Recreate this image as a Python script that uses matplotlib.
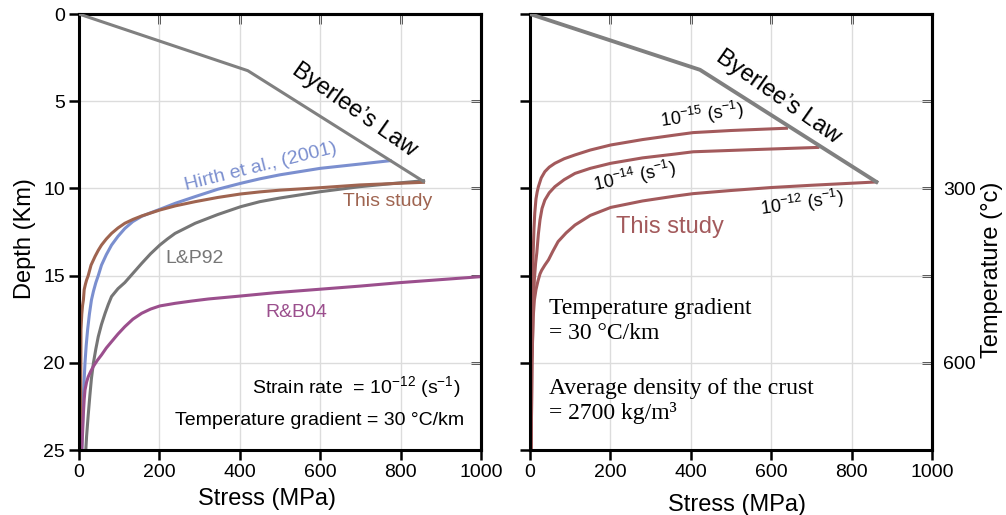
import matplotlib
matplotlib.use("Agg")
import matplotlib.pyplot as plt

plt.rcParams['font.family'] = ['Liberation Sans', 'DejaVu Sans']
plt.rcParams['mathtext.fontset'] = 'custom'
plt.rcParams['mathtext.rm'] = 'Liberation Sans'
plt.rcParams['mathtext.it'] = 'Liberation Sans:italic'

# --- data (stress MPa, depth km) ---
byerlee_stress = [0, 420, 857]
byerlee_depth = [0, 3.25, 9.6]
byerlee2_stress = [0, 423, 862]
byerlee2_depth = [0, 3.2, 9.63]

hirth_stress = [7, 9, 11, 13, 15, 18, 21.5, 26, 31, 36, 42, 48, 56, 68, 81, 97, 114, 134,
                156, 178, 201, 240, 289, 345, 402, 450, 500, 600, 700, 774]
hirth_depth = [25, 23.5, 21.9, 20.9, 20.0, 19.0, 18.1, 17.2, 16.4, 15.9, 15.4, 15.0, 14.4, 13.8,
               13.25, 12.75, 12.3, 11.9, 11.6, 11.4, 11.2, 10.85, 10.47, 10.05, 9.71, 9.45,
               9.22, 8.85, 8.6, 8.41]

study_stress = [4, 4.5, 5, 7, 9, 11, 13, 16, 19, 23, 30, 40, 48, 56, 68, 81, 97, 114, 134,
                156, 201, 240, 289, 345, 402, 450, 500, 600, 699, 857]
study_depth = [25, 21, 18.1, 17.2, 16.7, 16.4, 15.8, 15.5, 15.25, 15.0, 14.4, 13.9, 13.55,
               13.25, 12.9, 12.58, 12.27, 12.0, 11.78, 11.58, 11.24, 11.0, 10.76, 10.52,
               10.32, 10.2, 10.1, 9.96, 9.8, 9.65]

lp92_stress = [17, 19, 23, 27, 31, 36, 42, 48, 56, 65, 73, 81, 97, 114, 135, 156, 178, 201,
               220, 239, 289, 345, 402, 450, 500, 600, 699, 780, 857]
lp92_depth = [25, 24.2, 23, 21.9, 20.9, 20.0, 19.2, 18.5, 17.8, 17.16, 16.65, 16.2, 15.75,
              15.4, 14.85, 14.3, 13.75, 13.25, 12.9, 12.58, 12.0, 11.5, 11.05, 10.76, 10.55,
              10.19, 9.9, 9.72, 9.56]

rb04_stress = [7, 9, 11, 13, 15, 19, 23, 29, 36, 46, 56, 68, 81, 97, 114, 134, 156, 178,
               201, 239, 280, 322, 402, 488, 600, 700, 800, 900, 1000]
rb04_depth = [25, 24, 22.9, 22.1, 21.56, 21.1, 20.8, 20.5, 20.2, 19.85, 19.55, 19.15, 18.79,
              18.35, 17.93, 17.5, 17.16, 16.92, 16.74, 16.59, 16.46, 16.34, 16.17, 15.98,
              15.78, 15.6, 15.4, 15.23, 15.06]

# strain rate curves (right panel)
sr15_stress = [2, 3, 5, 6.5, 8, 10, 12, 15, 18, 21, 28, 37, 48, 62, 85, 112, 150, 201, 280,
               361, 406, 500, 638]
sr15_depth = [25, 21, 18, 15.5, 13.7, 12.3, 11.4, 10.6, 10.2, 9.9, 9.4, 9.04, 8.78, 8.56,
              8.3, 8.08, 7.8, 7.51, 7.2, 6.94, 6.8, 6.68, 6.55]
sr14_stress = [3, 5, 8, 11, 14, 17, 21, 25, 30, 37, 48, 62, 85, 112, 150, 201, 280, 361,
               406, 550, 716]
sr14_depth = [25, 20, 17, 15.2, 14.3, 13.7, 12.6, 11.8, 11.15, 10.67, 10.25, 9.9, 9.5, 9.14,
              8.85, 8.56, 8.25, 8.03, 7.9, 7.78, 7.65]
sr12_stress = [3, 5, 8, 11, 15, 20, 25, 29, 37, 46, 57, 70, 90, 112, 150, 201, 280, 361,
               406, 500, 600, 700, 862]
sr12_depth = [25, 20, 17.4, 16.4, 15.8, 15.3, 14.9, 14.7, 14.4, 14.1, 13.6, 13.05, 12.55,
              12.1, 11.55, 11.09, 10.72, 10.44, 10.3, 10.12, 9.95, 9.82, 9.63]

x_ticks = [0, 200, 400, 600, 800, 1000]
y_ticks = [0, 5, 10, 15, 20, 25]
temp_labels = ['', '', '300', '', '600', '']

c_blue = '#7b8fcf'
c_brown = '#9f6450'
c_gray = '#767676'
c_purple = '#9b4f8d'
c_red = '#a35a5c'
c_byer = '#808080'


def style_axes(ax):
    ax.set_xlim(0, 1000)
    ax.set_ylim(25, 0)
    ax.set_xticks(x_ticks)
    ax.set_yticks(y_ticks)
    ax.grid(True, color='#dcdcdc', lw=1)
    ax.set_axisbelow(True)
    for s in ax.spines.values():
        s.set_linewidth(2.2)
    ax.tick_params(direction='out', length=7, width=1.8, labelsize=14, pad=3)
    top = ax.secondary_xaxis('top')
    top.set_xticks(x_ticks[1:-1], labels=[''] * 4)
    top.tick_params(direction='in', length=7, width=1.8)
    top.spines['top'].set_linewidth(2.2)
    return top


fig = plt.figure(figsize=(10.06, 5.15), dpi=100)

# ---------------- left panel ----------------
ax1 = fig.add_axes([0.0785, 0.1262, 0.3996, 0.8466])
style_axes(ax1)
r1 = ax1.secondary_yaxis('right')
r1.set_yticks(y_ticks[1:-1], labels=[''] * 4)
r1.tick_params(direction='in', length=7, width=1.8)
r1.spines['right'].set_linewidth(2.2)

ax1.plot(byerlee_stress, byerlee_depth, color=c_byer, lw=2.2, zorder=3)
ax1.plot(hirth_stress, hirth_depth, color=c_blue, lw=2.2)
ax1.plot(lp92_stress, lp92_depth, color=c_gray, lw=2.2)
ax1.plot(study_stress, study_depth, color=c_brown, lw=2.2)
ax1.plot(rb04_stress, rb04_depth, color=c_purple, lw=2.2)

ax1.text(684, 5.5, 'Byerlee\u2019s Law', rotation=-35, fontsize=17,
         ha='center', va='center', rotation_mode='anchor')
ax1.text(452, 8.75, 'Hirth et al., (2001)', rotation=14, fontsize=14,
         color=c_blue, ha='center', va='center', rotation_mode='anchor')
ax1.text(769, 10.76, 'This study', fontsize=14, color=c_brown, ha='center', va='center')
ax1.text(287, 14.0, 'L&P92', fontsize=14, color=c_gray, ha='center', va='center')
ax1.text(541, 17.1, 'R&B04', fontsize=14, color=c_purple, ha='center', va='center')
ax1.text(948, 21.4, 'Strain rate  = 10$^{-12}$ (s$^{-1}$)', fontsize=14,
         ha='right', va='center')
ax1.text(958, 23.3, 'Temperature gradient = 30 \u00b0C/km', fontsize=14,
         ha='right', va='center')

ax1.set_xlabel('Stress (MPa)', fontsize=17)
ax1.set_ylabel('Depth (Km)', fontsize=17)
ax1.xaxis.set_label_coords(0.468, -0.086)
ax1.yaxis.set_label_coords(-0.107, 0.485)

# ---------------- right panel ----------------
ax2 = fig.add_axes([0.5268, 0.1262, 0.3996, 0.8466])
style_axes(ax2)
ax2.set_yticklabels([])
r2 = ax2.secondary_yaxis('right')
r2.set_yticks(y_ticks, labels=temp_labels)
r2.tick_params(direction='in', length=7, width=1.8, labelsize=14, pad=8)
r2.spines['right'].set_linewidth(2.2)
r2.set_ylabel('Temperature (\u00b0c)', fontsize=17)
r2.yaxis.set_label_coords(1.122, 0.413, transform=ax2.transAxes)

ax2.plot(byerlee2_stress, byerlee2_depth, color=c_byer, lw=2.8, zorder=3)
ax2.plot(sr15_stress, sr15_depth, color=c_red, lw=2.2)
ax2.plot(sr14_stress, sr14_depth, color=c_red, lw=2.2)
ax2.plot(sr12_stress, sr12_depth, color=c_red, lw=2.2)

ax2.text(617, 4.75, 'Byerlee\u2019s Law', rotation=-35, fontsize=17,
         ha='center', va='center', rotation_mode='anchor')
ax2.text(428, 5.8, '10$^{-15}$ (s$^{-1}$)', rotation=8, fontsize=13,
         ha='center', va='center', rotation_mode='anchor')
ax2.text(261, 9.3, '10$^{-14}$ (s$^{-1}$)', rotation=12, fontsize=13,
         ha='center', va='center', rotation_mode='anchor')
ax2.text(676, 10.85, '10$^{-12}$ (s$^{-1}$)', rotation=8, fontsize=13,
         ha='center', va='center', rotation_mode='anchor')
ax2.text(348, 12.2, 'This study', fontsize=17, color=c_red, ha='center', va='center')

serif = ['Liberation Serif', 'DejaVu Serif']
ax2.text(47, 17.6, 'Temperature gradient\n= 30 \u00b0C/km', fontsize=17,
         family=serif, ha='left', va='center', linespacing=1.2)
ax2.text(47, 22.2, 'Average density of the crust\n= 2700 kg/m\u00b3', fontsize=17,
         family=serif, ha='left', va='center', linespacing=1.2)

ax2.set_xlabel('Stress (MPa)', fontsize=17)
ax2.xaxis.set_label_coords(0.515, -0.1)

fig.savefig('out.png', dpi=100)
